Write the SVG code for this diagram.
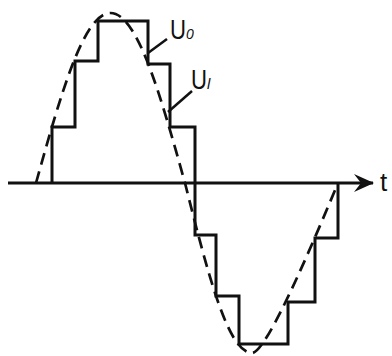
<svg xmlns="http://www.w3.org/2000/svg" width="392" height="356" viewBox="0 0 392 356">
<style>
.ln{fill:none;stroke:#111;stroke-width:3;stroke-linejoin:miter;stroke-linecap:butt}
.dash{fill:none;stroke:#111;stroke-width:2.7;stroke-dasharray:12 7}
.lead{fill:none;stroke:#111;stroke-width:2.5}
.lbl{font-family:"Liberation Sans",Arial,sans-serif;fill:#111}
.sub{font-family:"Liberation Sans",Arial,sans-serif;font-style:italic;fill:#111}
</style>
<defs>
<marker id="arr" markerWidth="22" markerHeight="20" refX="19" refY="9" orient="auto" markerUnits="userSpaceOnUse">
<path d="M0,0 L20,9 L0,18 L7,9 Z" fill="#111"/>
</marker>
</defs>
<rect width="392" height="356" fill="#fff"/>
<g id="axis">
<path class="ln" d="M8,183 H373" marker-end="url(#arr)"/>
<text class="lbl" x="380" y="191" font-size="26">t</text>
</g>
<g id="staircase-U0">
<path class="ln" d="M52,183 V127 H75 V61 H98 V21 H148 V64 H170 V127 H195 V235 H216 V296 H239 V344 H288 V302 H315 V238 H338 V183"/>
</g>
<g id="sine-U1">
<path class="dash" d="M36,183 C60.3,95.9 83.5,13 110.5,13 C137.5,13 160.7,95.9 185,183 C206.9,270.1 227.7,353 252,353 C265,353 303,267 338,183"/>
</g>
<g id="connectors">
<path class="lead" d="M167,39 L148,53"/>
<path class="lead" d="M192,91 L168,112"/>
</g>
<g id="label-U0">
<text class="lbl" font-size="27" transform="translate(170,39) scale(0.82,1)">U</text>
<text class="sub" x="186" y="39" font-size="14">0</text>
</g>
<g id="label-Ul">
<text class="lbl" font-size="27" transform="translate(191,89) scale(0.82,1)">U</text>
<text class="sub" x="207" y="89" font-size="15">l</text>
</g>
</svg>
